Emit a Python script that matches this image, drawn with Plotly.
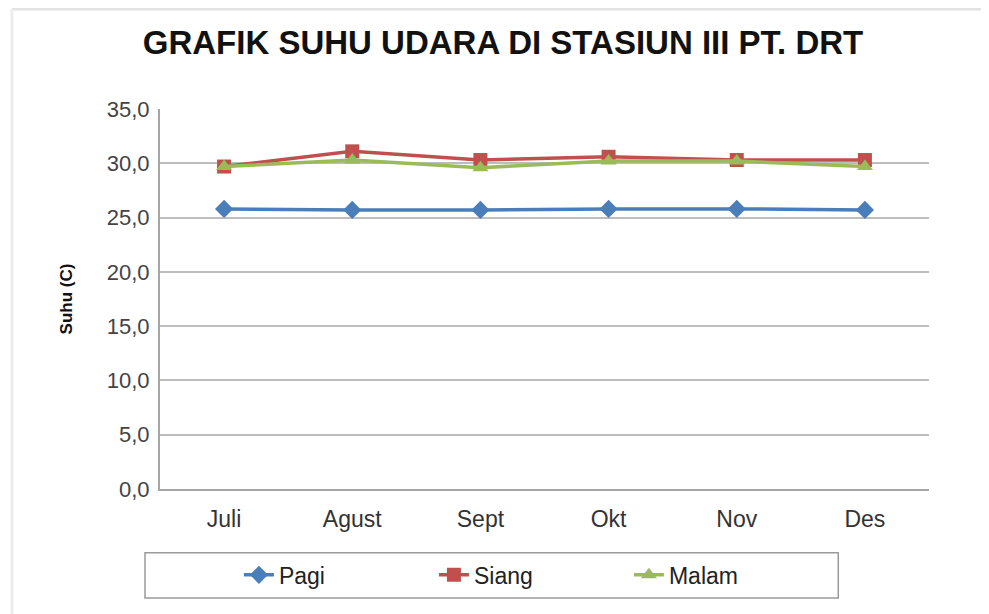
import plotly.graph_objects as go

months = ["Juli", "Agust", "Sept", "Okt", "Nov", "Des"]
pagi = [25.8, 25.7, 25.7, 25.8, 25.8, 25.7]
siang = [29.7, 31.1, 30.3, 30.6, 30.3, 30.3]
malam = [29.7, 30.3, 29.6, 30.2, 30.2, 29.7]
y_ticks = [0, 5, 10, 15, 20, 25, 30, 35]

font_main = "Liberation Sans, Arial, sans-serif"

fig = go.Figure()
fig.add_trace(go.Scatter(x=months, y=pagi, name="Pagi", mode="lines+markers",
                         line=dict(color="#4A7EBB", width=3.5),
                         marker=dict(symbol="diamond", size=14, color="#4A7EBB")))
fig.add_trace(go.Scatter(x=months, y=siang, name="Siang", mode="lines+markers",
                         line=dict(color="#C0504D", width=3.5),
                         marker=dict(symbol="square", size=14, color="#C0504D")))
fig.add_trace(go.Scatter(x=months, y=malam, name="Malam", mode="lines+markers",
                         line=dict(color="#9BBB59", width=3.5),
                         marker=dict(symbol="triangle-up", size=14, color="#9BBB59")))

fig.update_layout(
    width=989, height=614,
    paper_bgcolor="white", plot_bgcolor="white",
    margin=dict(l=152, r=68, t=101, b=133),
    separators=",.",
    title=dict(text="<b>GRAFIK SUHU UDARA DI STASIUN III PT. DRT</b>",
               x=0.5005, xanchor="center", y=0.9446, yanchor="middle",
               font=dict(family=font_main, size=33, color="#111111")),
    xaxis=dict(type="category", range=[-0.5, 5.5], showgrid=False,
               showline=True, linecolor="#a6a6a6", linewidth=2,
               ticks="", tickfont=dict(family=font_main, size=23, color="#333333"),
               ticklabelstandoff=8),
    yaxis=dict(range=[0, 35], tickvals=y_ticks, tickformat=".1f",
               showgrid=True, gridcolor="#bdbdbd", gridwidth=1.5,
               showline=True, linecolor="#a6a6a6", linewidth=2,
               ticks="", zeroline=False,
               tickfont=dict(family=font_main, size=22, color="#444444"),
               ticklabelstandoff=4,
               title=dict(text="<b>Suhu (C)</b>", standoff=30,
                          font=dict(family=font_main, size=17, color="#111111"))),
    legend=dict(orientation="h", x=0.483, xanchor="center", y=-0.226, yanchor="middle",
                entrywidth=150, bgcolor="rgba(0,0,0,0)",
                font=dict(family=font_main, size=23, color="#222222")),
    showlegend=True,
    shapes=[
        dict(type="rect", xref="paper", yref="paper", x0=-0.0195, x1=0.882, y0=-0.287, y1=-0.168,
             line=dict(color="#9a9a9a", width=1.5), fillcolor="rgba(0,0,0,0)", layer="below"),
        dict(type="line", xref="paper", yref="paper", x0=-0.1925, x1=1.1, y0=1.263, y1=1.263,
             line=dict(color="#e3e3e3", width=3)),
        dict(type="line", xref="paper", yref="paper", x0=-0.1925, x1=-0.1925, y0=1.263, y1=-0.35,
             line=dict(color="#ececec", width=3)),
    ],
)

fig.write_html("out.html")
